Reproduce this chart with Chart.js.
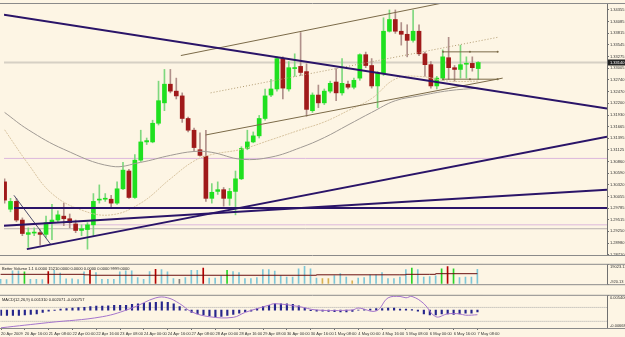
<!DOCTYPE html>
<html lang="en">
<head>
<meta charset="UTF-8">
<title>EURUSD H4</title>
<script src="https://cdn.jsdelivr.net/npm/chart.js"></script>
<style>
  body { margin: 0; background: #fdf5e4; width: 625px; height: 337px; overflow: hidden; position: relative; }
  canvas { position: absolute; left: 0; }
</style>
</head>
<body>
<canvas id="mainChart" width="625" height="259" style="top:0"></canvas>
<canvas id="volChart" width="625" height="31" style="top:259px"></canvas>
<canvas id="macdChart" width="625" height="47" style="top:290px"></canvas>
<script>
// ---- data (H4 bars, 20 Apr 2009 00:00 .. 7 May 2009 08:00) ----
const timeLabels = ['20 Apr 2009', '20 Apr 16:00', '21 Apr 08:00', '22 Apr 00:00', '22 Apr 16:00', '23 Apr 08:00',
  '24 Apr 00:00', '24 Apr 16:00', '27 Apr 08:00', '28 Apr 00:00', '28 Apr 16:00', '29 Apr 08:00', '30 Apr 00:00',
  '30 Apr 16:00', '1 May 08:00', '4 May 00:00', '4 May 16:00', '5 May 08:00', '6 May 00:00', '6 May 16:00', '7 May 08:00'];
const labelEvery = 4;

const open = [1.3039, 1.2976, 1.2994, 1.2951, 1.2918, 1.2921, 1.2922, 1.2918, 1.2945, 1.2951,
  1.2960, 1.2954, 1.2942, 1.2927, 1.2929, 1.2940, 1.2997, 1.2999, 1.2999, 1.2990,
  1.3023, 1.3064, 1.3003, 1.3089, 1.3131, 1.3131, 1.3174, 1.3221, 1.3264, 1.3248,
  1.3237, 1.3185, 1.3158, 1.3113, 1.3098, 1.3001, 1.3017, 1.3021, 1.3001, 1.3017,
  1.3046, 1.3116, 1.3131, 1.3145, 1.3185, 1.3239, 1.3253, 1.3323, 1.3253, 1.3300,
  1.3305, 1.3293, 1.3203, 1.3239, 1.3221, 1.3248, 1.3269, 1.3244, 1.3264, 1.3257,
  1.3278, 1.3332, 1.3307, 1.3260, 1.3289, 1.3386, 1.3413, 1.3386, 1.3379, 1.3365,
  1.3386, 1.3334, 1.3309, 1.3260, 1.3278, 1.3325, 1.3302, 1.3298, 1.3310, 1.3312, 1.3300];
const high = [1.3046, 1.3001, 1.3001, 1.2956, 1.2933, 1.2933, 1.2929, 1.2960, 1.2987, 1.2972,
  1.2990, 1.2965, 1.2951, 1.2940, 1.2945, 1.3012, 1.3032, 1.3012, 1.3008, 1.3039,
  1.3084, 1.3068, 1.3102, 1.3158, 1.3140, 1.3181, 1.3271, 1.3298, 1.3298, 1.3278,
  1.3244, 1.3188, 1.3163, 1.3152, 1.3158, 1.3035, 1.3039, 1.3026, 1.3024, 1.3064,
  1.3120, 1.3158, 1.3154, 1.3192, 1.3253, 1.3275, 1.3327, 1.3327, 1.3316, 1.3334,
  1.3383, 1.3311, 1.3244, 1.3262, 1.3253, 1.3271, 1.3300, 1.3323, 1.3271, 1.3278,
  1.3334, 1.3338, 1.3323, 1.3293, 1.3417, 1.3435, 1.3435, 1.3406, 1.3401, 1.3435,
  1.3401, 1.3338, 1.3316, 1.3282, 1.3343, 1.3372, 1.3307, 1.3354, 1.3327, 1.3327, 1.3316];
const low = [1.2990, 1.2970, 1.2947, 1.2915, 1.2888, 1.2915, 1.2893, 1.2911, 1.2906, 1.2945,
  1.2938, 1.2933, 1.2922, 1.2915, 1.2884, 1.2915, 1.2990, 1.2994, 1.2981, 1.2987,
  1.3021, 1.3001, 1.3001, 1.3086, 1.3125, 1.3129, 1.3170, 1.3203, 1.3244, 1.3230,
  1.3176, 1.3154, 1.3109, 1.3098, 1.2994, 1.2990, 1.3010, 1.2983, 1.2985, 1.2963,
  1.3044, 1.3113, 1.3129, 1.3140, 1.3181, 1.3235, 1.3248, 1.3230, 1.3248, 1.3282,
  1.3284, 1.3190, 1.3199, 1.3210, 1.3217, 1.3244, 1.3226, 1.3239, 1.3253, 1.3253,
  1.3273, 1.3302, 1.3255, 1.3210, 1.3284, 1.3384, 1.3381, 1.3354, 1.3327, 1.3361,
  1.3330, 1.3282, 1.3255, 1.3253, 1.3273, 1.3275, 1.3271, 1.3278, 1.3278, 1.3294, 1.3275];
const close = [1.2997, 1.2994, 1.2951, 1.2920, 1.2922, 1.2923, 1.2918, 1.2945, 1.2951, 1.2963,
  1.2954, 1.2945, 1.2927, 1.2931, 1.2940, 1.2994, 1.2999, 1.3001, 1.2990, 1.3023,
  1.3066, 1.3003, 1.3089, 1.3131, 1.3134, 1.3174, 1.3226, 1.3264, 1.3248, 1.3237,
  1.3185, 1.3158, 1.3118, 1.3100, 1.3001, 1.3015, 1.3021, 1.3001, 1.3017, 1.3046,
  1.3116, 1.3131, 1.3145, 1.3185, 1.3237, 1.3253, 1.3323, 1.3255, 1.3302, 1.3302,
  1.3291, 1.3206, 1.3239, 1.3221, 1.3248, 1.3266, 1.3244, 1.3266, 1.3257, 1.3273,
  1.3332, 1.3307, 1.3260, 1.3289, 1.3386, 1.3413, 1.3386, 1.3379, 1.3365, 1.3386,
  1.3334, 1.3309, 1.3260, 1.3278, 1.3327, 1.3302, 1.3298, 1.3309, 1.3312, 1.3302, 1.3314];

// moving averages, sampled [bar, price]
const slowMA = [[0, 1.3199], [4, 1.3159], [10, 1.3114], [18, 1.3075], [23, 1.3084], [28, 1.3100], [32, 1.3109],
  [35, 1.3107], [40, 1.3091], [45, 1.3096], [50, 1.3118], [54, 1.3141], [58, 1.3170], [62, 1.3199],
  [66, 1.3226], [70, 1.3237], [75, 1.3249], [80, 1.3255]];
const fastMA = [[0, 1.3159], [4, 1.3080], [8, 1.3012], [13, 1.2974], [18, 1.2963], [23, 1.2990], [28, 1.3046],
  [32, 1.3087], [35, 1.3102], [40, 1.3114], [45, 1.3136], [50, 1.3159], [54, 1.3177], [58, 1.3203],
  [62, 1.3231], [66, 1.3276], [70, 1.3282], [75, 1.3271], [80, 1.3271]];

// drawn objects, [bar, price]
const trendDown = [[-0.1, 1.3424], [101.75, 1.3208]];
const trendUpSteep = [[3.76, 1.2884], [101.75, 1.3143]];
const trendUpFlat = [[-0.1, 1.2938], [101.75, 1.3021]];
const trendShort = [[1.58, 1.3008], [7.79, 1.2895]];
const levelNavy = [[1.6, 1.29785], [101.75, 1.29785]];
const channelTop = [[29.77, 1.3330], [81.6, 1.3472]];
const channelBottom = [[33.96, 1.3147], [84.13, 1.3278]];
const channelMid = [[34.8, 1.3244], [83.3, 1.3372]];
const boxTop = [[74.06, 1.33385], [78.6, 1.33385], [83.29, 1.33385]];
const boxBottom = [[74.06, 1.32755], [78.6, 1.32755], [83.29, 1.32755]];
const pinkLevels = [1.3093, 1.2940];
const grayLevel = 1.2931;
const bidPrice = 1.3314;

const priceTicks = [1.34355, 1.34085, 1.33815, 1.33545, 1.33275, 1.33005, 1.32740, 1.32470, 1.32200, 1.31930,
  1.31665, 1.31395, 1.31125, 1.30860, 1.30590, 1.30320, 1.30055, 1.29785, 1.29515, 1.29250, 1.28980, 1.28710];

// Better Volume
const volume = [4000, 3710, 12860, 12860, 11690, 4130, 4130, 3710, 12170, 13340,
  10590, 4610, 4610, 3710, 11690, 13340, 11000, 4130, 4130, 4130,
  11690, 12860, 12860, 5780, 4130, 12170, 14440, 14030, 11690, 4810,
  4130, 5780, 13340, 13340, 15610, 5300, 5300, 7570, 13340, 12170,
  11000, 4810, 4810, 5780, 14030, 14030, 12660, 8050, 6470, 6470,
  14930, 17470, 14930, 5300, 4810, 4810, 8050, 9900, 6470, 2540,
  5300, 5780, 8730, 8730, 11000, 4810, 4810, 6470, 14030, 15610,
  14030, 6470, 6880, 7570, 14930, 17200, 14930, 5980, 6470, 6470, 14440];
const climaxBars = [8, 15, 26, 34, 75];
const churnBars = [4, 38, 69, 74, 76];
const lowVolBars = [54, 55, 59];
const neutralBars = [30];
const volAvg = [[0, 9220], [8, 9220], [14, 8740], [15, 8260], [52, 8260], [53, 8740], [67, 8740], [68, 9220], [72, 9220], [73, 9900], [80, 9900]];
const volRange = [-920.13, 19023.13];

// MACD
const macdHist = [-0.00196, -0.00196, -0.00196, -0.00196, -0.00173, -0.00163, -0.00140, -0.00088, -0.00033, -0.00010,
  0.00042, 0.00065, 0.00075, 0.00098, 0.00108, 0.00131, 0.00153, 0.00153, 0.00163, 0.00186,
  0.00186, 0.00186, 0.00219, 0.00238, 0.00261, 0.00284, 0.00294, 0.00317, 0.00294, 0.00238,
  0.00131, 0.00023, -0.00088, -0.00140, -0.00173, -0.00219, -0.00251, -0.00229, -0.00196, -0.00163,
  -0.00108, -0.00056, -0.00033, 0.00065, 0.00131, 0.00186, 0.00238, 0.00238, 0.00238, 0.00219,
  0.00163, 0.00075, -0.00015, -0.00033, -0.00033, -0.00042, -0.00056, -0.00065, -0.00065, -0.00042,
  0.00005, 0.00023, 0.00042, 0.00056, 0.00065, 0.00075, 0.00075, 0.00042, 0.00042, 0.00023,
  -0.00033, -0.00140, -0.00173, -0.00173, -0.00140, -0.00140, -0.00163, -0.00140, -0.00108, -0.00108, -0.00065];
const macdSignal = [[0, -0.0066], [8, -0.00464], [17, -0.00245], [22, 0.00082], [26, 0.00464], [28, 0.00464],
  [30, 0.00245], [32, -0.00059], [35, -0.00245], [39, -0.00268], [41, -0.00082], [45, 0.00189], [46, 0.00245],
  [50, 0.00137], [53, 0.00007], [59, 0.00007], [60, 0.00082], [63, -0.00026], [65, 0.00464], [67, 0.00516],
  [68, 0.00464], [69, 0.00516], [71, 0.00245], [73, -0.00245], [75, -0.00137], [77, -0.00137], [78, -0.00189], [80, -0.0017]];
const macdRange = [-0.00668, 0.0054];
const macdLevels = [0.00104, -0.00418];

const volTitle = 'Better Volume 1.1 0.0000 15210.0000 0.0000 0.0000 0.0000 9999.0000';
const macdTitle = 'MACD(12,26,9) 0.001310 0.002071 -0.000757';

// ---- drawing ----
const xMin = -0.1, xMax = 101.75;
Chart.defaults.font.family = '"Liberation Sans", Arial, sans-serif';
Chart.defaults.font.size = 4;
Chart.defaults.color = '#333';
Chart.defaults.animation = false;

const bars = open.map((_, i) => i);
const up = bars.map(i => close[i] >= open[i]);
const pts = arr => arr.map(([x, y]) => ({x, y}));

const paneFrame = {
  id: 'paneFrame',
  afterDraw(chart, args, opts) {
    const {ctx, chartArea: a} = chart;
    ctx.save();
    ctx.strokeStyle = '#8a8a8a';
    ctx.lineWidth = 1;
    ctx.beginPath();
    ctx.moveTo(0, a.top - 0.5); ctx.lineTo(chart.width, a.top - 0.5);
    ctx.moveTo(0, a.bottom + 0.5); ctx.lineTo(chart.width, a.bottom + 0.5);
    ctx.stroke();
    if (opts.title) {
      ctx.fillStyle = '#222';
      ctx.font = '4px "Liberation Sans"';
      ctx.textBaseline = 'top';
      ctx.fillText(opts.title, 2, a.top + 2);
    }
    if (opts.bid) {
      const y = chart.scales.y.getPixelForValue(opts.bid);
      ctx.fillStyle = '#222';
      ctx.fillRect(a.right + 1, y - 3, chart.width - a.right - 1, 6);
      ctx.fillStyle = '#fff';
      ctx.font = '4px "Liberation Sans"';
      ctx.textBaseline = 'middle';
      ctx.fillText(opts.bid.toFixed(5), a.right + 3, y);
    }
    ctx.restore();
  }
};

function rightAxis(extra) {
  return Object.assign({
    position: 'right',
    afterFit: s => { s.width = 18; },
    border: {display: true, color: '#707070'},
    grid: {drawOnChartArea: false, tickLength: 2, color: '#707070'},
    ticks: {padding: 1, color: '#333'}
  }, extra);
}
const xAxis = {type: 'linear', min: xMin, max: xMax, offset: false, display: false};

function line(data, color, width, extra) {
  return Object.assign({type: 'line', data, borderColor: color, borderWidth: width, pointRadius: 0, order: 0}, extra);
}

new Chart(document.getElementById('mainChart'), {
  type: 'bar',
  data: {
    datasets: [
      line(pts(trendDown), '#2a1468', 2),
      line(pts(trendUpSteep), '#2a1468', 2),
      line(pts(trendUpFlat), '#2a1468', 2),
      line(pts(levelNavy), '#2a1468', 2),
      line(pts(trendShort), '#4a4a6a', 1),
      line(pts(channelTop), '#7b6a48', 1),
      line(pts(channelBottom), '#7b6a48', 1),
      line(pts(channelMid), '#b09a70', 1, {borderDash: [1, 2]}),
      line(pts(boxTop), '#7b6a48', 1, {pointRadius: 1, pointBackgroundColor: '#7b6a48', pointBorderWidth: 0}),
      line(pts(boxBottom), '#7b6a48', 1, {pointRadius: 1, pointBackgroundColor: '#7b6a48', pointBorderWidth: 0}),
      line(pts(slowMA), '#a09a94', 1, {tension: 0.4, order: 1}),
      line(pts(fastMA), '#d8c4a0', 1, {tension: 0.4, order: 1, borderDash: [2, 1]}),
      {
        type: 'bar', order: 2, grouped: false, barThickness: 4, minBarLength: 1,
        data: bars.map(i => ({x: i, y: [open[i], close[i]]})),
        backgroundColor: bars.map(i => up[i] ? '#1fe01f' : '#a01a1a')
      },
      {
        type: 'bar', order: 3, grouped: false, barThickness: 1,
        data: bars.map(i => ({x: i, y: [low[i], high[i]]})),
        backgroundColor: bars.map(i => up[i] ? '#7ed87e' : '#b0908a')
      },
      line(pts([[xMin, bidPrice], [xMax, bidPrice]]), '#d6d0c4', 2, {order: 4}),
      ...pinkLevels.map(p => line(pts([[xMin, p], [xMax, p]]), '#dcb8dc', 1, {order: 4})),
      line(pts([[xMin, grayLevel], [xMax, grayLevel]]), '#b8b0b0', 1, {order: 4})
    ]
  },
  options: {
    responsive: false,
    layout: {padding: {top: 1, bottom: 1}},
    plugins: {legend: {display: false}, tooltip: {enabled: false}, paneFrame: {bid: bidPrice}},
    scales: {
      x: xAxis,
      y: rightAxis({
        min: 1.3451 - 258 * 0.000225, max: 1.3451 - 0.000225,
        afterBuildTicks: s => { s.ticks = priceTicks.map(v => ({value: v})); },
        ticks: {padding: 1, color: '#333', callback: v => v.toFixed(5)}
      })
    }
  },
  plugins: [paneFrame]
});

const volColor = i => climaxBars.includes(i) ? '#b40000' : churnBars.includes(i) ? '#28d428'
  : lowVolBars.includes(i) ? '#d8b050' : neutralBars.includes(i) ? '#808080' : '#7cc6d8';

new Chart(document.getElementById('volChart'), {
  type: 'bar',
  data: {
    datasets: [
      line(pts(volAvg), '#6a1010', 1, {stepped: true}),
      {
        type: 'bar', order: 1, barThickness: 1,
        data: bars.map(i => ({x: i, y: volume[i]})),
        backgroundColor: bars.map(volColor)
      }
    ]
  },
  options: {
    responsive: false,
    layout: {padding: {top: 1}},
    plugins: {legend: {display: false}, tooltip: {enabled: false}, paneFrame: {title: volTitle}},
    scales: {
      x: xAxis,
      y: rightAxis({
        min: volRange[0], max: volRange[1],
        afterBuildTicks: s => { s.ticks = volRange.map(v => ({value: v})); },
        ticks: {padding: 1, color: '#333', callback: v => v === volRange[1] ? ['', v.toFixed(2)] : [v.toFixed(2), '']}
      })
    }
  },
  plugins: [paneFrame]
});

new Chart(document.getElementById('macdChart'), {
  type: 'bar',
  data: {
    datasets: [
      line(pts(macdSignal), '#a474cc', 1, {tension: 0.4}),
      ...macdLevels.map(v => line(pts([[xMin, v], [xMax, v]]), '#a8a8a8', 1, {borderDash: [1, 1], order: 3})),
      {
        type: 'bar', order: 1, barThickness: 1.5,
        data: bars.map(i => ({x: i, y: macdHist[i]})),
        backgroundColor: '#26268c'
      }
    ]
  },
  options: {
    responsive: false,
    layout: {padding: {top: 1}},
    plugins: {legend: {display: false}, tooltip: {enabled: false}, paneFrame: {title: macdTitle}},
    scales: {
      x: {
        type: 'linear', min: xMin, max: xMax, offset: false,
        afterFit: s => { s.height = 9; },
        border: {display: true, color: '#707070'},
        grid: {drawOnChartArea: false, offset: false, tickLength: 2, color: '#707070'},
        afterBuildTicks: s => { s.ticks = timeLabels.map((_, k) => ({value: k * labelEvery})); },
        ticks: {align: 'start', padding: 1, maxRotation: 0, autoSkip: false, color: '#333',
          callback: v => timeLabels[Math.round(v / labelEvery)]}
      },
      y: rightAxis({
        min: macdRange[0], max: macdRange[1],
        afterBuildTicks: s => { s.ticks = macdRange.map(v => ({value: v})); },
        ticks: {padding: 1, color: '#333', callback: v => v === macdRange[1] ? ['', v.toFixed(6)] : [v.toFixed(5), '']}
      })
    }
  },
  plugins: [paneFrame]
});
</script>
</body>
</html>
